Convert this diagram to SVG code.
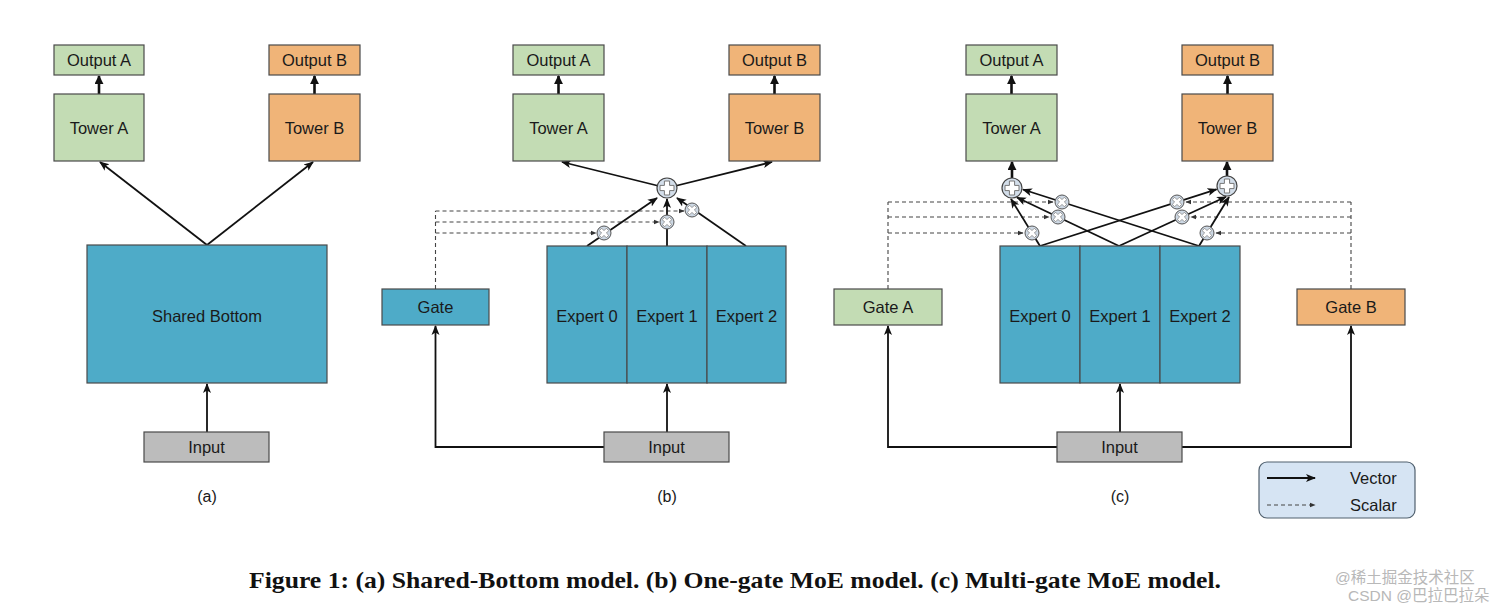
<svg xmlns="http://www.w3.org/2000/svg" xmlns:xlink="http://www.w3.org/1999/xlink" width="1512" height="608" viewBox="0 0 1512 608">
<style>
.box{stroke:#4a4a4a;stroke-width:1.2}
.green{fill:#c3dcb4}
.orange{fill:#f0b478}
.blue{fill:#4eabc8}
.grey{fill:#bcbcbc}
.t{font-family:"Liberation Sans",Arial,sans-serif;font-size:16.5px;fill:#1a1a1a;text-anchor:middle}
.lab{font-family:"Liberation Sans",Arial,sans-serif;font-size:16px;fill:#1a1a1a;text-anchor:middle}
.v{fill:none;stroke:#111;stroke-width:1.8;marker-end:url(#ah)}
.vt{fill:none;stroke:#111;stroke-width:2.6;marker-end:url(#ahT)}
.s{fill:none;stroke:#444;stroke-width:1.1;stroke-dasharray:4 3}
.sa{fill:none;stroke:#444;stroke-width:1.1;stroke-dasharray:4 3;marker-end:url(#ahS)}
.cap{font-family:"Liberation Serif","Times New Roman",serif;font-weight:bold;font-size:22.5px;fill:#111}
.wm{font-family:"Liberation Sans","Noto Sans CJK SC",sans-serif;font-size:15.5px;fill:#b8b8b8}
</style>
<defs>
<marker id="ah" viewBox="0 0 10 10" refX="9" refY="5" markerWidth="10" markerHeight="10" markerUnits="userSpaceOnUse" orient="auto"><path d="M0,1 L10,5 L0,9 L2.5,5 z" fill="#111"/></marker>
<marker id="ahT" viewBox="0 0 10 10" refX="9" refY="5" markerWidth="9" markerHeight="9" markerUnits="userSpaceOnUse" orient="auto"><path d="M0,0 L10,5 L0,10 z" fill="#111"/></marker>
<marker id="ahS" viewBox="0 0 10 10" refX="9" refY="5" markerWidth="6" markerHeight="6" markerUnits="userSpaceOnUse" orient="auto"><path d="M0,1 L10,5 L0,9 z" fill="#333"/></marker>
<g id="plus">
<circle r="10" fill="#d3deea" stroke="#444" stroke-width="1.2"/>
<path d="M-2.6,-7 H2.6 V-2.6 H7 V2.6 H2.6 V7 H-2.6 V2.6 H-7 V-2.6 H-2.6 Z" fill="#fff" stroke="#777" stroke-width="1"/>
</g>
<g id="mult">
<circle r="7" fill="#cdd8e4" stroke="#555" stroke-width="1"/>
<path d="M-1.7,-5 H1.7 V-1.7 H5 V1.7 H1.7 V5 H-1.7 V1.7 H-5 V-1.7 H-1.7 Z" fill="#fff" stroke="#888" stroke-width="0.8" transform="rotate(45)"/>
</g>
</defs>
<rect width="1512" height="608" fill="#fff"/>

<g id="connectors">
<!-- panel a -->
<line class="v" x1="207" y1="432" x2="207" y2="384"/>
<line class="v" x1="207" y1="245" x2="100" y2="162"/>
<line class="v" x1="207" y1="245" x2="313" y2="162"/>
<line class="vt" x1="99" y1="94" x2="99" y2="76"/>
<line class="vt" x1="314.5" y1="94" x2="314.5" y2="76"/>
<!-- panel b -->
<line class="v" x1="667" y1="432" x2="667" y2="384"/>
<path class="v" d="M604,447 H435.5 V326"/>
<path class="s" d="M435.5,289 V211"/>
<path class="sa" d="M435.5,211 H684"/>
<path class="sa" d="M435.5,222 H659"/>
<path class="sa" d="M435.5,233 H596"/>
<line class="v" x1="587" y1="246" x2="657" y2="198"/>
<line class="v" x1="667" y1="246" x2="667" y2="199"/>
<line class="v" x1="746" y1="246" x2="677" y2="198"/>
<line class="v" x1="667" y1="188" x2="562" y2="162"/>
<line class="v" x1="667" y1="188" x2="772" y2="162"/>
<line class="vt" x1="558.5" y1="94" x2="558.5" y2="76"/>
<line class="vt" x1="774.5" y1="94" x2="774.5" y2="76"/>
<!-- panel c -->
<line class="v" x1="1120" y1="432" x2="1120" y2="384"/>
<path class="v" d="M1057,447 H888 V326"/>
<path class="v" d="M1182,447 H1351 V326"/>
<path class="s" d="M888,289 V202"/>
<path class="sa" d="M888,202 H1053"/>
<path class="sa" d="M888,217 H1049"/>
<path class="sa" d="M888,233 H1023"/>
<path class="s" d="M1351,289 V202"/>
<path class="sa" d="M1351,202 H1186"/>
<path class="sa" d="M1351,217 H1191"/>
<path class="sa" d="M1351,233 H1216"/>
<line class="v" x1="1040" y1="246" x2="1011" y2="199"/>
<line class="v" x1="1119" y1="246" x2="1017" y2="197.5"/>
<line class="v" x1="1199" y1="246" x2="1023" y2="189.5"/>
<line class="v" x1="1040" y1="246" x2="1216.5" y2="189.3"/>
<line class="v" x1="1119" y1="246" x2="1226" y2="196.8"/>
<line class="v" x1="1199" y1="246" x2="1229" y2="197"/>
<line class="vt" x1="1012" y1="178" x2="1012" y2="162"/>
<line class="vt" x1="1227" y1="176" x2="1227" y2="162"/>
<line class="vt" x1="1011.5" y1="94" x2="1011.5" y2="76"/>
<line class="vt" x1="1227.5" y1="94" x2="1227.5" y2="76"/>
</g>

<!-- operators -->
<g id="ops-b">
<use xlink:href="#plus" href="#plus" x="667" y="188"/>
<use xlink:href="#mult" href="#mult" x="604" y="233"/>
<use xlink:href="#mult" href="#mult" x="667" y="222"/>
<use xlink:href="#mult" href="#mult" x="692" y="210"/>
</g>
<g id="ops-c">
<use xlink:href="#plus" href="#plus" x="1012" y="188"/>
<use xlink:href="#plus" href="#plus" x="1227" y="186"/>
<use xlink:href="#mult" href="#mult" x="1062" y="202"/>
<use xlink:href="#mult" href="#mult" x="1058" y="217"/>
<use xlink:href="#mult" href="#mult" x="1032" y="233"/>
<use xlink:href="#mult" href="#mult" x="1177" y="202"/>
<use xlink:href="#mult" href="#mult" x="1182" y="217"/>
<use xlink:href="#mult" href="#mult" x="1207" y="233"/>
</g>

<!-- panel a nodes -->
<g id="a-outputA"><rect class="box green" x="54" y="45" width="90" height="30"/><text class="t" x="99" y="66">Output A</text></g>
<g id="a-outputB"><rect class="box orange" x="269" y="45" width="91" height="30"/><text class="t" x="314.5" y="66">Output B</text></g>
<g id="a-towerA"><rect class="box green" x="54" y="94" width="90" height="67"/><text class="t" x="99" y="134">Tower A</text></g>
<g id="a-towerB"><rect class="box orange" x="269" y="94" width="91" height="67"/><text class="t" x="314.5" y="134">Tower B</text></g>
<g id="a-shared"><rect class="box blue" x="87" y="245" width="240" height="138"/><text class="t" x="207" y="322">Shared Bottom</text></g>
<g id="a-input"><rect class="box grey" x="144" y="432" width="125" height="30"/><text class="t" x="206.5" y="453">Input</text></g>
<text class="lab" x="207" y="502">(a)</text>

<!-- panel b nodes -->
<g id="b-outputA"><rect class="box green" x="513" y="45" width="91" height="30"/><text class="t" x="558.5" y="66">Output A</text></g>
<g id="b-outputB"><rect class="box orange" x="729" y="45" width="91" height="30"/><text class="t" x="774.5" y="66">Output B</text></g>
<g id="b-towerA"><rect class="box green" x="513" y="94" width="91" height="67"/><text class="t" x="558.5" y="134">Tower A</text></g>
<g id="b-towerB"><rect class="box orange" x="729" y="94" width="91" height="67"/><text class="t" x="774.5" y="134">Tower B</text></g>
<g id="b-gate"><rect class="box blue" x="382" y="289" width="107" height="36"/><text class="t" x="435.5" y="313">Gate</text></g>
<g id="b-expert0"><rect class="box blue" x="547" y="246" width="80" height="137"/><text class="t" x="587" y="322">Expert 0</text></g>
<g id="b-expert1"><rect class="box blue" x="627" y="246" width="80" height="137"/><text class="t" x="667" y="322">Expert 1</text></g>
<g id="b-expert2"><rect class="box blue" x="707" y="246" width="79" height="137"/><text class="t" x="746.5" y="322">Expert 2</text></g>
<g id="b-input"><rect class="box grey" x="604" y="432" width="125" height="30"/><text class="t" x="666.5" y="453">Input</text></g>
<text class="lab" x="667" y="502">(b)</text>

<!-- panel c nodes -->
<g id="c-outputA"><rect class="box green" x="966" y="45" width="91" height="30"/><text class="t" x="1011.5" y="66">Output A</text></g>
<g id="c-outputB"><rect class="box orange" x="1182" y="45" width="91" height="30"/><text class="t" x="1227.5" y="66">Output B</text></g>
<g id="c-towerA"><rect class="box green" x="966" y="94" width="91" height="67"/><text class="t" x="1011.5" y="134">Tower A</text></g>
<g id="c-towerB"><rect class="box orange" x="1182" y="94" width="91" height="67"/><text class="t" x="1227.5" y="134">Tower B</text></g>
<g id="c-gateA"><rect class="box green" x="834" y="289" width="108" height="36"/><text class="t" x="888" y="313">Gate A</text></g>
<g id="c-gateB"><rect class="box orange" x="1297" y="289" width="108" height="36"/><text class="t" x="1351" y="313">Gate B</text></g>
<g id="c-expert0"><rect class="box blue" x="1000" y="246" width="80" height="137"/><text class="t" x="1040" y="322">Expert 0</text></g>
<g id="c-expert1"><rect class="box blue" x="1080" y="246" width="80" height="137"/><text class="t" x="1120" y="322">Expert 1</text></g>
<g id="c-expert2"><rect class="box blue" x="1160" y="246" width="80" height="137"/><text class="t" x="1200" y="322">Expert 2</text></g>
<g id="c-input"><rect class="box grey" x="1057" y="432" width="125" height="30"/><text class="t" x="1119.5" y="453">Input</text></g>
<text class="lab" x="1120" y="502">(c)</text>

<!-- legend -->
<g id="legend">
<rect x="1259" y="462" width="156" height="56" rx="8" fill="#d6e4f3" stroke="#50606e" stroke-width="1.2"/>
<line class="v" x1="1267" y1="478" x2="1315" y2="478"/>
<line class="sa" x1="1267" y1="505" x2="1315" y2="505"/>
<text class="t" x="1350" y="484" style="text-anchor:start">Vector</text>
<text class="t" x="1350" y="511" style="text-anchor:start">Scalar</text>
</g>

<text class="cap" x="249" y="588" textLength="972" lengthAdjust="spacingAndGlyphs">Figure 1: (a) Shared-Bottom model. (b) One-gate MoE model. (c) Multi-gate MoE model.</text>

<text class="wm" x="1335" y="583">@稀土掘金技术社区</text>
<text class="wm" x="1348" y="601">CSDN @巴拉巴拉朵</text>
</svg>
